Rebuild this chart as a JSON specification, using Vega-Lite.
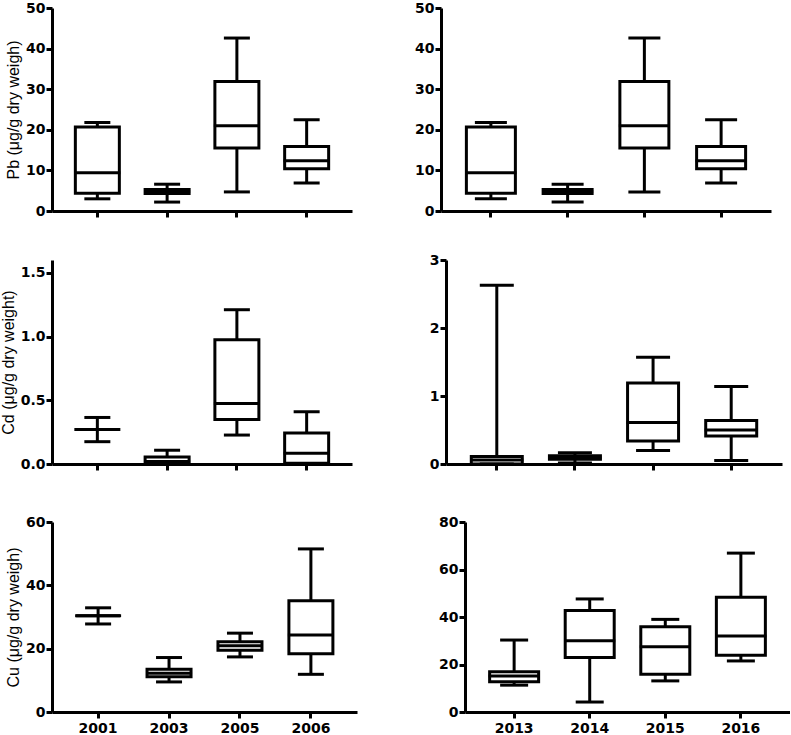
{
  "$schema": "https://vega.github.io/schema/vega-lite/v6.json",
  "padding": {"left": 0, "top": 1, "right": 0, "bottom": 0},
  "background": "white",
  "data": {"name": "boxes"},
  "datasets": {
    "boxes": [
      {"panel": "Pb_L", "year": "2001", "min": 3.0, "q1": 4.4, "median": 9.4, "q3": 20.7, "max": 21.8},
      {"panel": "Pb_L", "year": "2003", "min": 2.2, "q1": 4.3, "median": 4.8, "q3": 5.3, "max": 6.6},
      {"panel": "Pb_L", "year": "2005", "min": 4.7, "q1": 15.5, "median": 21.0, "q3": 31.9, "max": 42.6},
      {"panel": "Pb_L", "year": "2006", "min": 6.9, "q1": 10.4, "median": 12.4, "q3": 15.9, "max": 22.5},
      {"panel": "Pb_R", "year": "2013", "min": 3.0, "q1": 4.4, "median": 9.4, "q3": 20.7, "max": 21.8},
      {"panel": "Pb_R", "year": "2014", "min": 2.2, "q1": 4.3, "median": 4.8, "q3": 5.3, "max": 6.6},
      {"panel": "Pb_R", "year": "2015", "min": 4.7, "q1": 15.5, "median": 21.0, "q3": 31.9, "max": 42.6},
      {"panel": "Pb_R", "year": "2016", "min": 6.9, "q1": 10.4, "median": 12.4, "q3": 15.9, "max": 22.5},
      {"panel": "Cd_L", "year": "2001", "min": 0.175, "q1": 0.27, "median": 0.27, "q3": 0.27, "max": 0.365},
      {"panel": "Cd_L", "year": "2003", "min": 0.0, "q1": 0.0, "median": 0.02, "q3": 0.054, "max": 0.108},
      {"panel": "Cd_L", "year": "2005", "min": 0.227, "q1": 0.35, "median": 0.475, "q3": 0.975, "max": 1.21},
      {"panel": "Cd_L", "year": "2006", "min": 0.0, "q1": 0.005, "median": 0.084, "q3": 0.244, "max": 0.41},
      {"panel": "Cd_R", "year": "2013", "min": 0.0, "q1": 0.0, "median": 0.06, "q3": 0.11, "max": 2.63},
      {"panel": "Cd_R", "year": "2014", "min": 0.015, "q1": 0.07, "median": 0.09, "q3": 0.12, "max": 0.167},
      {"panel": "Cd_R", "year": "2015", "min": 0.2, "q1": 0.34, "median": 0.61, "q3": 1.19, "max": 1.57},
      {"panel": "Cd_R", "year": "2016", "min": 0.05, "q1": 0.41, "median": 0.5, "q3": 0.64, "max": 1.14},
      {"panel": "Cu_L", "year": "2001", "min": 27.8, "q1": 30.4, "median": 30.4, "q3": 30.4, "max": 32.9},
      {"panel": "Cu_L", "year": "2003", "min": 9.5, "q1": 11.1, "median": 12.2, "q3": 13.5, "max": 17.2},
      {"panel": "Cu_L", "year": "2005", "min": 17.4, "q1": 19.5, "median": 20.9, "q3": 22.2, "max": 24.9},
      {"panel": "Cu_L", "year": "2006", "min": 11.9, "q1": 18.4, "median": 24.3, "q3": 35.1, "max": 51.5},
      {"panel": "Cu_R", "year": "2013", "min": 11.3, "q1": 12.7, "median": 15.2, "q3": 16.9, "max": 30.3},
      {"panel": "Cu_R", "year": "2014", "min": 4.2, "q1": 23.0, "median": 30.0, "q3": 42.7, "max": 47.6},
      {"panel": "Cu_R", "year": "2015", "min": 13.1, "q1": 15.9, "median": 27.5, "q3": 35.9, "max": 39.0},
      {"panel": "Cu_R", "year": "2016", "min": 21.5, "q1": 23.9, "median": 32.0, "q3": 48.3, "max": 66.9}
    ]
  },
  "spacing": 43,
  "vconcat": [
    {
      "spacing": 34,
      "vconcat": [
        {
          "spacing": 62,
          "hconcat": [
            {
              "width": 300, "height": 203,
              "transform": [{"filter": "datum.panel === 'Pb_L'"}],
              "encoding": {"x": {"field": "year", "type": "nominal", "scale": {"paddingInner": 0, "paddingOuter": 0.15}, "axis": {"labels": false, "title": null}}},
              "layer": [
                {"mark": {"type": "rule", "color": "black", "strokeWidth": 3}, "encoding": {"y": {"field": "min", "type": "quantitative", "scale": {"domain": [0, 50]}, "axis": {"values": [0, 10, 20, 30, 40, 50], "format": "d"}, "title": "Pb (μg/g dry weigh)"}, "y2": {"field": "max"}}},
                {"mark": {"type": "bar", "fill": "white", "stroke": "black", "strokeWidth": 3, "size": 44}, "encoding": {"y": {"field": "q1", "type": "quantitative", "title": "Pb (μg/g dry weigh)"}, "y2": {"field": "q3"}}},
                {"mark": {"type": "tick", "color": "black", "opacity": 1, "thickness": 3, "size": 46}, "encoding": {"y": {"field": "median", "type": "quantitative", "title": "Pb (μg/g dry weigh)"}}},
                {"mark": {"type": "tick", "color": "black", "opacity": 1, "thickness": 3, "size": 26}, "encoding": {"y": {"field": "min", "type": "quantitative", "title": "Pb (μg/g dry weigh)"}}},
                {"mark": {"type": "tick", "color": "black", "opacity": 1, "thickness": 3, "size": 26}, "encoding": {"y": {"field": "max", "type": "quantitative", "title": "Pb (μg/g dry weigh)"}}}
              ]
            },
            {
              "width": 330, "height": 203,
              "transform": [{"filter": "datum.panel === 'Pb_R'"}],
              "encoding": {"x": {"field": "year", "type": "nominal", "scale": {"paddingInner": 0, "paddingOuter": 0.15}, "axis": {"labels": false, "title": null}}},
              "layer": [
                {"mark": {"type": "rule", "color": "black", "strokeWidth": 3}, "encoding": {"y": {"field": "min", "type": "quantitative", "scale": {"domain": [0, 50]}, "axis": {"values": [0, 10, 20, 30, 40, 50], "format": "d"}, "title": null}, "y2": {"field": "max"}}},
                {"mark": {"type": "bar", "fill": "white", "stroke": "black", "strokeWidth": 3, "size": 49}, "encoding": {"y": {"field": "q1", "type": "quantitative", "title": null}, "y2": {"field": "q3"}}},
                {"mark": {"type": "tick", "color": "black", "opacity": 1, "thickness": 3, "size": 51}, "encoding": {"y": {"field": "median", "type": "quantitative", "title": null}}},
                {"mark": {"type": "tick", "color": "black", "opacity": 1, "thickness": 3, "size": 32}, "encoding": {"y": {"field": "min", "type": "quantitative", "title": null}}},
                {"mark": {"type": "tick", "color": "black", "opacity": 1, "thickness": 3, "size": 32}, "encoding": {"y": {"field": "max", "type": "quantitative", "title": null}}}
              ]
            }
          ]
        },
        {
          "spacing": 77,
          "hconcat": [
            {
              "width": 300, "height": 204,
              "transform": [{"filter": "datum.panel === 'Cd_L'"}],
              "encoding": {"x": {"field": "year", "type": "nominal", "scale": {"paddingInner": 0, "paddingOuter": 0.15}, "axis": {"labels": false, "title": null}}},
              "layer": [
                {"mark": {"type": "rule", "color": "black", "strokeWidth": 3}, "encoding": {"y": {"field": "min", "type": "quantitative", "scale": {"domain": [0, 1.5]}, "axis": {"values": [0, 0.5, 1, 1.5], "format": ".1f"}, "title": "Cd (μg/g dry weight)"}, "y2": {"field": "max"}}},
                {"mark": {"type": "bar", "fill": "white", "stroke": "black", "strokeWidth": 3, "size": 44}, "encoding": {"y": {"field": "q1", "type": "quantitative", "title": "Cd (μg/g dry weight)"}, "y2": {"field": "q3"}}},
                {"mark": {"type": "tick", "color": "black", "opacity": 1, "thickness": 3, "size": 46}, "encoding": {"y": {"field": "median", "type": "quantitative", "title": "Cd (μg/g dry weight)"}}},
                {"mark": {"type": "tick", "color": "black", "opacity": 1, "thickness": 3, "size": 26}, "encoding": {"y": {"field": "min", "type": "quantitative", "title": "Cd (μg/g dry weight)"}}},
                {"mark": {"type": "tick", "color": "black", "opacity": 1, "thickness": 3, "size": 26}, "encoding": {"y": {"field": "max", "type": "quantitative", "title": "Cd (μg/g dry weight)"}}}
              ]
            },
            {
              "width": 336, "height": 204,
              "transform": [{"filter": "datum.panel === 'Cd_R'"}],
              "encoding": {"x": {"field": "year", "type": "nominal", "scale": {"paddingInner": 0, "paddingOuter": 0.15}, "axis": {"labels": false, "title": null}}},
              "layer": [
                {"mark": {"type": "rule", "color": "black", "strokeWidth": 3}, "encoding": {"y": {"field": "min", "type": "quantitative", "scale": {"domain": [0, 3]}, "axis": {"values": [0, 1, 2, 3], "format": "d"}, "title": null}, "y2": {"field": "max"}}},
                {"mark": {"type": "bar", "fill": "white", "stroke": "black", "strokeWidth": 3, "size": 51}, "encoding": {"y": {"field": "q1", "type": "quantitative", "title": null}, "y2": {"field": "q3"}}},
                {"mark": {"type": "tick", "color": "black", "opacity": 1, "thickness": 3, "size": 53}, "encoding": {"y": {"field": "median", "type": "quantitative", "title": null}}},
                {"mark": {"type": "tick", "color": "black", "opacity": 1, "thickness": 3, "size": 34}, "encoding": {"y": {"field": "min", "type": "quantitative", "title": null}}},
                {"mark": {"type": "tick", "color": "black", "opacity": 1, "thickness": 3, "size": 34}, "encoding": {"y": {"field": "max", "type": "quantitative", "title": null}}}
              ]
            }
          ]
        }
      ]
    },
    {
      "spacing": 81,
      "hconcat": [
        {
          "width": 305, "height": 190,
          "transform": [{"filter": "datum.panel === 'Cu_L'"}],
          "encoding": {"x": {"field": "year", "type": "nominal", "scale": {"paddingInner": 0, "paddingOuter": 0.15}, "axis": {"title": null}}},
          "layer": [
            {"mark": {"type": "rule", "color": "black", "strokeWidth": 3}, "encoding": {"y": {"field": "min", "type": "quantitative", "scale": {"domain": [0, 60]}, "axis": {"values": [0, 20, 40, 60], "format": "d"}, "title": "Cu (μg/g dry weigh)"}, "y2": {"field": "max"}}},
            {"mark": {"type": "bar", "fill": "white", "stroke": "black", "strokeWidth": 3, "size": 44}, "encoding": {"y": {"field": "q1", "type": "quantitative", "title": "Cu (μg/g dry weigh)"}, "y2": {"field": "q3"}}},
            {"mark": {"type": "tick", "color": "black", "opacity": 1, "thickness": 3, "size": 46}, "encoding": {"y": {"field": "median", "type": "quantitative", "title": "Cu (μg/g dry weigh)"}}},
            {"mark": {"type": "tick", "color": "black", "opacity": 1, "thickness": 3, "size": 26}, "encoding": {"y": {"field": "min", "type": "quantitative", "title": "Cu (μg/g dry weigh)"}}},
            {"mark": {"type": "tick", "color": "black", "opacity": 1, "thickness": 3, "size": 26}, "encoding": {"y": {"field": "max", "type": "quantitative", "title": "Cu (μg/g dry weigh)"}}}
          ]
        },
        {
          "width": 325, "height": 190,
          "transform": [{"filter": "datum.panel === 'Cu_R'"}],
          "encoding": {"x": {"field": "year", "type": "nominal", "scale": {"paddingInner": 0, "paddingOuter": 0.15}, "axis": {"title": null}}},
          "layer": [
            {"mark": {"type": "rule", "color": "black", "strokeWidth": 3}, "encoding": {"y": {"field": "min", "type": "quantitative", "scale": {"domain": [0, 80]}, "axis": {"values": [0, 20, 40, 60, 80], "format": "d"}, "title": null}, "y2": {"field": "max"}}},
            {"mark": {"type": "bar", "fill": "white", "stroke": "black", "strokeWidth": 3, "size": 49}, "encoding": {"y": {"field": "q1", "type": "quantitative", "title": null}, "y2": {"field": "q3"}}},
            {"mark": {"type": "tick", "color": "black", "opacity": 1, "thickness": 3, "size": 51}, "encoding": {"y": {"field": "median", "type": "quantitative", "title": null}}},
            {"mark": {"type": "tick", "color": "black", "opacity": 1, "thickness": 3, "size": 28}, "encoding": {"y": {"field": "min", "type": "quantitative", "title": null}}},
            {"mark": {"type": "tick", "color": "black", "opacity": 1, "thickness": 3, "size": 28}, "encoding": {"y": {"field": "max", "type": "quantitative", "title": null}}}
          ]
        }
      ]
    }
  ],
  "config": {
    "view": {"stroke": null},
    "axis": {
      "domainColor": "black", "domainWidth": 3, "tickColor": "black", "tickWidth": 3, "tickSize": 6,
      "labelFont": "DejaVu Sans", "labelFontWeight": "bold", "labelFontSize": 14, "labelColor": "black", "labelPadding": 1,
      "grid": false,
      "titleFont": "Liberation Sans", "titleFontSize": 16, "titleFontWeight": "normal", "titleColor": "black", "titlePadding": 4
    },
    "axisX": {"labelAngle": 0, "labelPadding": 3}
  }
}
